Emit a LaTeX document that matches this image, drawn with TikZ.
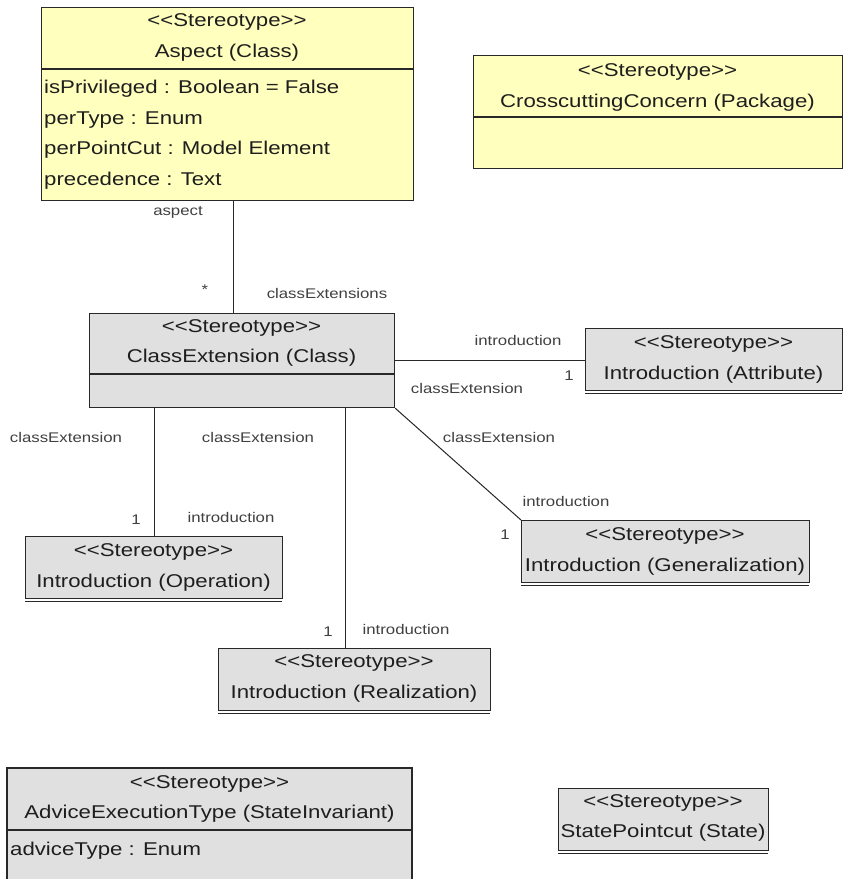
\documentclass[tikz,border=0pt]{standalone}
\usepackage{fontspec}
\setmainfont{Liberation Sans}[FakeStretch=1.2, Ligatures=TeXOff]
\usetikzlibrary{calc}
\definecolor{umlyellow}{RGB}{255,255,190}
\definecolor{umlgray}{RGB}{224,224,224}
\definecolor{umlline}{RGB}{40,40,40}
\definecolor{umltext}{RGB}{30,30,30}
\tikzset{
  umlbox/.style={draw=umlline, line width=1.2pt, inner sep=0pt, anchor=north west},
  yellowbox/.style={umlbox, fill=umlyellow},
  graybox/.style={umlbox, fill=umlgray},
  divider/.style={draw=umlline, line width=1.2pt},
  conn/.style={draw=umlline, line width=1pt},
  boxtext/.style={inner sep=0pt, text=umltext, font=\fontsize{18.5}{20}\selectfont},
  attrtext/.style={boxtext, anchor=west},
  lbl/.style={inner sep=0pt, text=umltext!85, font=\fontsize{14}{16}\selectfont},
}
\begin{document}
\begin{tikzpicture}[x=1pt, y=-1pt]
\useasboundingbox (0,0) rectangle (846,879);
\fill[white] (0,0) rectangle (846,879);

% ---- Aspect (Class)
\node[yellowbox, minimum width=372pt, minimum height=193pt] (aspect) at (41,7) {};
\draw[divider] (41,69) -- (413,69);
\node[boxtext] (aspectS) at (227,22) {<<Stereotype>>};
\node[boxtext] (aspectN) at (227,53) {Aspect (Class)};
\node[attrtext] (a1) at (44,89) {isPrivileged : Boolean = False};
\node[attrtext] (a2) at (44,120) {perType : Enum};
\node[attrtext] (a3) at (44,150) {perPointCut : Model Element};
\node[attrtext] (a4) at (44,181) {precedence : Text};

% ---- CrosscuttingConcern (Package)
\node[yellowbox, minimum width=369pt, minimum height=113pt] (ccp) at (473,55) {};
\draw[divider] (473,117) -- (842,117);
\node[boxtext] (ccpS) at (657.5,72) {<<Stereotype>>};
\node[boxtext] (ccpN) at (657.5,103) {CrosscuttingConcern (Package)};

% ---- ClassExtension (Class)
\node[graybox, minimum width=305pt, minimum height=94pt] (ce) at (89,313) {};
\draw[divider] (89,374) -- (394,374);
\node[boxtext] (ceS) at (241.5,328) {<<Stereotype>>};
\node[boxtext] (ceN) at (241.5,358) {ClassExtension (Class)};

% ---- Introduction (Attribute)
\node[graybox, minimum width=257pt, minimum height=62pt] (iatt) at (585,328) {};
\draw[divider] (iatt.south west) ++(0,2.5) -- ++(257,0);
\node[boxtext] (iattS) at (713.5,344) {<<Stereotype>>};
\node[boxtext] (iattN) at (713.5,375) {Introduction (Attribute)};

% ---- Introduction (Operation)
\node[graybox, minimum width=257pt, minimum height=62pt] (iop) at (25,536) {};
\draw[divider] (iop.south west) ++(0,2.5) -- ++(257,0);
\node[boxtext] (iopS) at (153.5,552) {<<Stereotype>>};
\node[boxtext] (iopN) at (153.5,583) {Introduction (Operation)};

% ---- Introduction (Generalization)
\node[graybox, minimum width=288pt, minimum height=62pt] (igen) at (521,520) {};
\draw[divider] (igen.south west) ++(0,2.5) -- ++(288,0);
\node[boxtext] (igenS) at (665,536) {<<Stereotype>>};
\node[boxtext] (igenN) at (665,567) {Introduction (Generalization)};

% ---- Introduction (Realization)
\node[graybox, minimum width=272pt, minimum height=62pt] (ireal) at (218,648) {};
\draw[divider] (ireal.south west) ++(0,2.5) -- ++(272,0);
\node[boxtext] (irealS) at (354,663) {<<Stereotype>>};
\node[boxtext] (irealN) at (354,694) {Introduction (Realization)};

% ---- AdviceExecutionType (StateInvariant)
\fill[umlgray] (7,768) rectangle (412,879);
\draw[divider] (7,881) -- (7,768) -- (412,768) -- (412,881);
\draw[divider] (7,830) -- (412,830);
\node[boxtext] (aceS) at (209.5,784) {<<Stereotype>>};
\node[boxtext] (aceN) at (209.5,814) {AdviceExecutionType (StateInvariant)};
\node[attrtext] (ace1) at (10,851) {adviceType : Enum};

% ---- StatePointcut (State)
\node[graybox, minimum width=210pt, minimum height=62pt] (spc) at (558,788) {};
\draw[divider] (spc.south west) ++(0,2.5) -- ++(210,0);
\node[boxtext] (spcS) at (663,803) {<<Stereotype>>};
\node[boxtext] (spcN) at (663,833) {StatePointcut (State)};

% ---- connectors
\draw[conn] ([xshift=6pt]aspect.south) -- ([xshift=6pt]aspect.south |- ce.north);
\draw[conn] (ce.east) -- (ce.east -| iatt.west);
\draw[conn] (iop.north |- ce.south) -- (iop.north);
\draw[conn] ([xshift=-9pt]ireal.north |- ce.south) -- ([xshift=-9pt]ireal.north);
\draw[conn] (ce.south east) -- (igen.north west);

% ---- role labels and multiplicities
\node[lbl] (l1) at (178,212) {aspect};
\node[lbl] (l2) at (205,290) {*};
\node[lbl] (l3) at (327,293) {classExtensions};
\node[lbl] (l4) at (518,340) {introduction};
\node[lbl] (l5) at (569,376) {1};
\node[lbl] (l6) at (467,388) {classExtension};
\node[lbl] (l7) at (66,437) {classExtension};
\node[lbl] (l8) at (258,437) {classExtension};
\node[lbl] (l9) at (499,437) {classExtension};
\node[lbl] (l10) at (136,520) {1};
\node[lbl] (l11) at (231,517) {introduction};
\node[lbl] (l12) at (566,501) {introduction};
\node[lbl] (l13) at (505,535) {1};
\node[lbl] (l14) at (328,632) {1};
\node[lbl] (l15) at (406,629) {introduction};
\end{tikzpicture}
\end{document}
